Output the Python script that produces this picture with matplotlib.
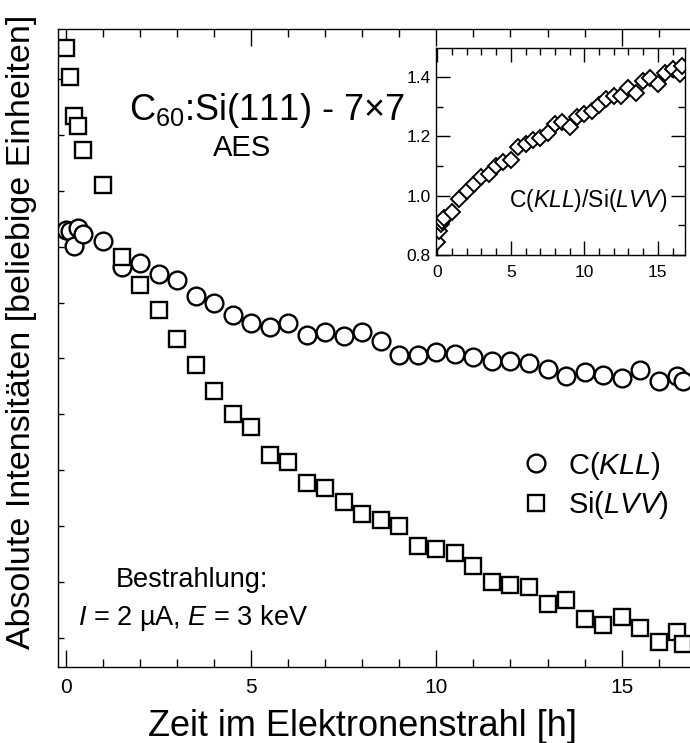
import matplotlib
matplotlib.use('Agg')
import matplotlib.pyplot as plt
from matplotlib.lines import Line2D

plt.rcParams['font.family'] = ['Liberation Sans', 'DejaVu Sans']
plt.rcParams['mathtext.fontset'] = 'custom'
plt.rcParams['mathtext.rm'] = 'Liberation Sans'
plt.rcParams['mathtext.it'] = 'Liberation Sans:italic'

# time points [h]
times = [0, 0.11, 0.22, 0.33, 0.45, 1.0, 1.5, 2.0, 2.5, 3.0, 3.5, 4.0, 4.5,
         5.0, 5.5, 6.0, 6.5, 7.0, 7.5, 8.0, 8.5, 9.0, 9.5, 10.0, 10.5, 11.0,
         11.5, 12.0, 12.5, 13.0, 13.5, 14.0, 14.5, 15.0, 15.5, 16.0, 16.5, 16.66]

# absolute intensities (arbitrary units)
c_kll = [8.30, 8.28, 8.01, 8.33, 8.23, 8.11, 7.64, 7.70, 7.51, 7.40, 7.11, 6.99,
         6.78, 6.63, 6.56, 6.63, 6.42, 6.48, 6.40, 6.48, 6.32, 6.06, 6.06, 6.12,
         6.08, 6.02, 5.96, 5.96, 5.92, 5.82, 5.69, 5.76, 5.70, 5.65, 5.79, 5.59,
         5.68, 5.59]
si_lvv = [11.55, 11.03, 10.33, 10.16, 9.73, 9.10, 7.82, 7.31, 6.86, 6.35, 5.88,
          5.42, 5.00, 4.77, 4.27, 4.14, 3.78, 3.69, 3.44, 3.21, 3.11, 3.01, 2.65,
          2.60, 2.52, 2.28, 2.01, 1.95, 1.91, 1.61, 1.68, 1.34, 1.24, 1.37, 1.17,
          0.93, 1.11, 0.90]

# ratio C(KLL)/Si(LVV) for the inset
ratio = [0.845, 0.88, 0.905, 0.915, 0.925, 0.946, 0.989, 1.017, 1.039, 1.062,
         1.073, 1.100, 1.112, 1.120, 1.163, 1.174, 1.188, 1.196, 1.213, 1.243,
         1.247, 1.233, 1.264, 1.275, 1.286, 1.305, 1.325, 1.336, 1.336, 1.364,
         1.345, 1.387, 1.398, 1.375, 1.415, 1.428, 1.412, 1.437]

fig = plt.figure(figsize=(6.9, 7.43), dpi=100)
ax = fig.add_axes([58 / 690, 76 / 743, 634 / 690, 638 / 743])

ax.plot(times, c_kll, 'o', ms=12.8, mfc='white', mec='black', mew=1.7, ls='none')
ax.plot(times, si_lvv, 's', ms=11.8, mfc='white', mec='black', mew=1.7, ls='none')

ax.set_xlim(-0.216, 16.9)
ax.set_ylim(0.481, 11.894)
ax.set_xticks([0, 5, 10, 15])
ax.set_xticks(range(0, 17), minor=True)
ax.set_yticks(range(1, 12))
ax.set_yticklabels([])
ax.tick_params(axis='x', which='major', direction='in', length=12, width=1,
               top=True, labelsize=15, pad=8)
ax.tick_params(axis='x', which='minor', direction='in', length=6, width=1, top=True)
ax.tick_params(axis='y', which='major', direction='in', length=4, width=1, right=False)
for s in ax.spines.values():
    s.set_linewidth(1.0)

fig.text(22 / 690, 1 - 332 / 743, 'Absolute Intensitäten [beliebige Einheiten]',
         rotation=90, ha='center', va='center', fontsize=24.5)
fig.text(363 / 690, 1 - 736 / 743, 'Zeit im Elektronenstrahl [h]',
         ha='center', va='baseline', fontsize=26)

ax.text(0.33, 0.873, 'C$_{60}$:Si(111) - 7×7', transform=ax.transAxes,
        ha='center', va='center', fontsize=26)
ax.text(0.29, 0.813, 'AES', transform=ax.transAxes, ha='center', va='center',
        fontsize=21)
ax.text(0.211, 0.136, 'Bestrahlung:', transform=ax.transAxes, ha='center',
        va='center', fontsize=19.5)
ax.text(0.213, 0.077, r'$\mathit{I}$ = 2 µA, $\mathit{E}$ = 3 keV',
        transform=ax.transAxes, ha='center', va='center', fontsize=19.5)

handles = [
    Line2D([], [], marker='o', ls='none', ms=12.8, mfc='white', mec='black', mew=1.7),
    Line2D([], [], marker='s', ls='none', ms=11.8, mfc='white', mec='black', mew=1.7),
]
ax.legend(handles, [r'C($\mathit{KLL}$)', r'Si($\mathit{LVV}$)'], loc='center left',
          bbox_to_anchor=(0.69, 0.285), frameon=False, fontsize=21,
          handletextpad=0.6, labelspacing=0.25, handlelength=1.0)

# inset: ratio
ins = fig.add_axes([435.7 / 690, 1 - 255 / 743, (685 - 435.7) / 690, (255 - 48.3) / 743])
ins.plot(times, ratio, 'D', ms=8.2, mfc='white', mec='black', mew=1.4, ls='none')
ins.set_xlim(-0.11, 16.85)
ins.set_ylim(0.8, 1.497)
ins.set_xticks([0, 5, 10, 15])
ins.set_xticks(range(0, 17), minor=True)
ins.set_yticks([0.8, 1.0, 1.2, 1.4])
ins.set_yticks([0.9, 1.1, 1.3], minor=True)
ins.set_yticklabels(['0.8', '1.0', '1.2', '1.4'])
ins.tick_params(which='major', direction='in', length=10, width=1, top=True,
                right=True, labelsize=12.5)
ins.tick_params(which='minor', direction='in', length=5, width=1, top=True, right=True)
ins.tick_params(axis='x', pad=7)
for s in ins.spines.values():
    s.set_linewidth(1.0)
ins.text(0.93, 0.266, r'C($\mathit{KLL}$)/Si($\mathit{LVV}$)', transform=ins.transAxes,
         ha='right', va='center', fontsize=16.5,
         bbox=dict(facecolor='white', edgecolor='none', pad=1))

fig.savefig('out.png', dpi=100)
